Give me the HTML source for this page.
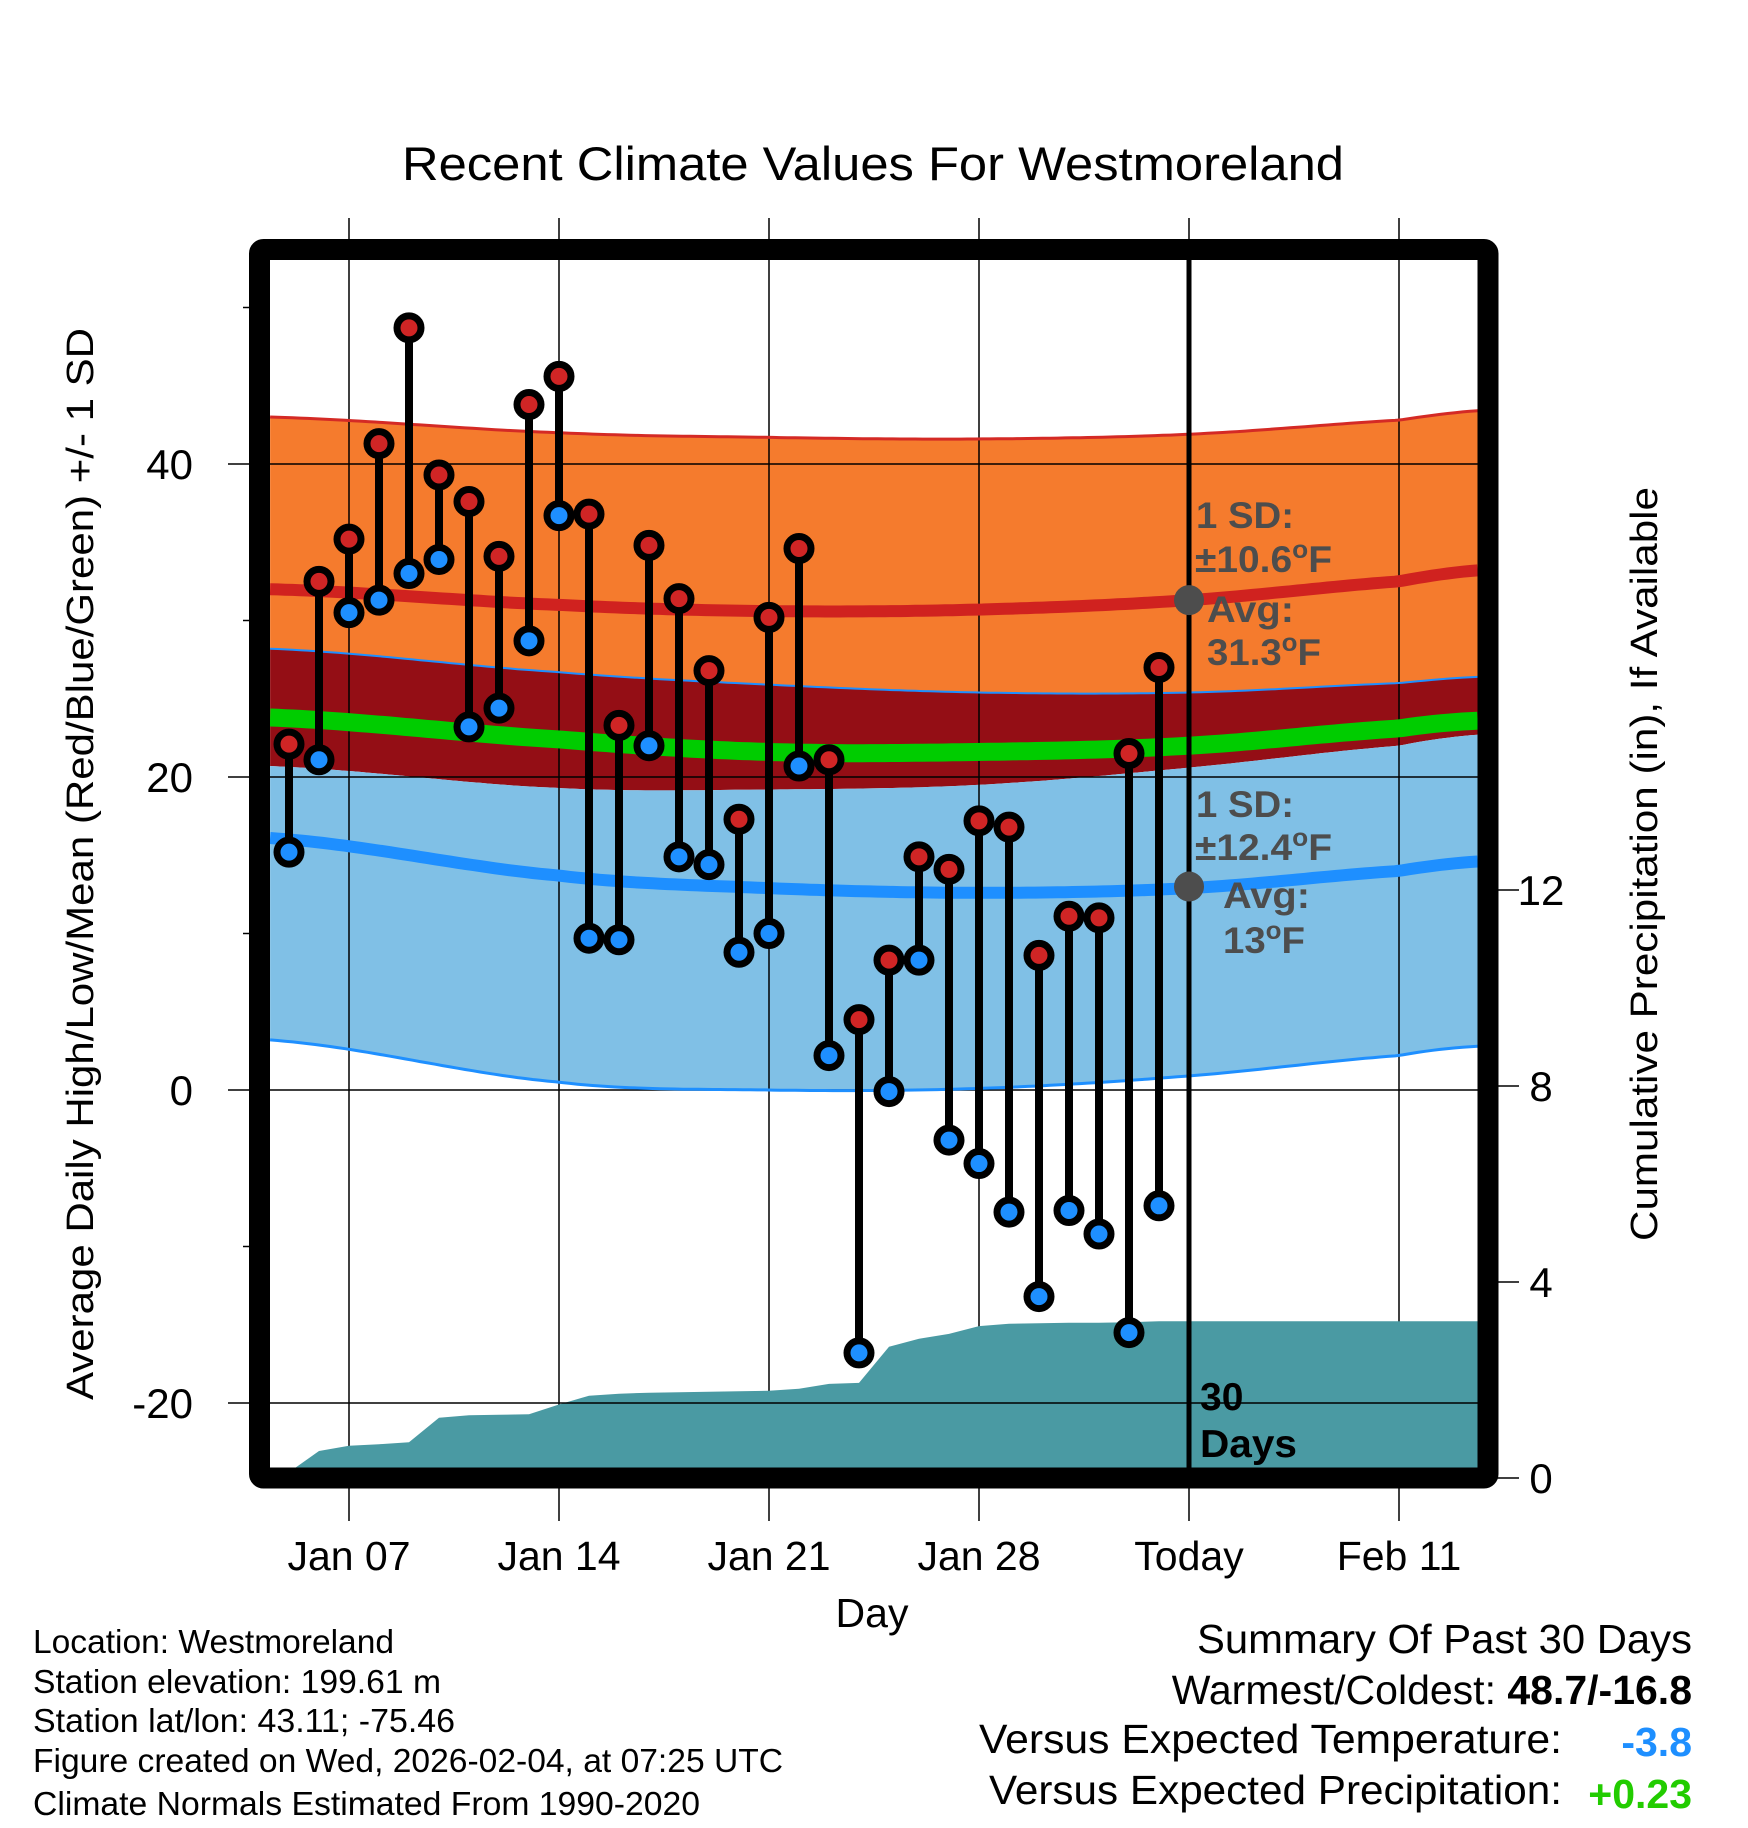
<!DOCTYPE html>
<html><head><meta charset="utf-8"><style>
html,body{margin:0;padding:0;background:#fff;}
svg{display:block;font-family:"Liberation Sans",Arial,sans-serif;}
</style></head><body>
<svg id="chart" width="1748" height="1828" viewBox="0 0 1748 1828" xmlns="http://www.w3.org/2000/svg">
<g id="bands"></g><g id="grid"></g><g id="precip"></g><g id="lines"></g><g id="marks"></g><g id="frame"></g><g id="labels"></g>
</svg>
<script>
// ---- data ----
const days = [5,6,7,8,9,10,11,12,13,14,15,16,17,18,19,20,21,22,23,24,25,26,27,28,29,30,31,32,33,34];
const highs = [22.1,32.5,35.2,41.3,48.7,39.3,37.6,34.1,43.8,45.6,36.8,23.3,34.8,31.4,26.8,17.3,30.2,34.6,21.1,4.5,8.3,14.9,14.1,17.2,16.8,8.6,11.1,11.0,21.5,27.0];
const lows = [15.2,21.1,30.5,31.3,33.0,33.9,23.2,24.4,28.7,36.7,9.7,9.6,22.0,14.9,14.4,8.8,10.0,20.7,2.2,-16.8,-0.1,8.3,-3.2,-4.7,-7.8,-13.2,-7.7,-9.2,-15.5,-7.4];
const precip = [0.0,0.55,0.66,0.69,0.73,1.23,1.28,1.29,1.30,1.50,1.68,1.72,1.74,1.75,1.76,1.77,1.78,1.82,1.92,1.94,2.68,2.84,2.94,3.10,3.15,3.16,3.17,3.17,3.18,3.20];
const normDays = [4.37,14,21,28,35,42,44.63];
const highMean = [32.0,31.0,30.6,30.7,31.3,32.5,33.2];
const highUpper = [43.0,42.0,41.7,41.6,41.9,42.8,43.4];
const highLower = [28.2,26.7,25.9,25.4,25.4,26.0,26.4];
const lowMean = [16.1,13.7,12.9,12.6,12.9,14.0,14.6];
const lowUpper = [20.7,19.3,19.2,19.5,20.6,22.0,22.7];
const lowLower = [3.2,0.5,0.0,0.1,0.9,2.2,2.8];
const avgMean = [23.8,22.4,21.6,21.6,22.0,23.1,23.6];
const xTickDays = [7,14,21,28,35,42];
const xTickLabels = ["Jan 07","Jan 14","Jan 21","Jan 28","Today","Feb 11"];
const yTicks = [40,20,0,-20];
const yMinor = [50,30,10,-10];
const pTicks = [0,4,8,12];
// ---- scales ----
const L=270,R=1478,T=260,B=1468;
const x = d => 349 + 30*(d-7);
const y = t => 1090 - 15.65*t;
const py = p => 1478 - 49*p;
const NS="http://www.w3.org/2000/svg";
function el(tag, attrs, parent){const e=document.createElementNS(NS,tag);for(const k in attrs)e.setAttribute(k,attrs[k]);parent.appendChild(e);return e;}
function interp(arr,d){for(let i=0;i<normDays.length-1;i++){if(d<=normDays[i+1]){const f=(d-normDays[i])/(normDays[i+1]-normDays[i]);const a=arr[i],b=arr[i+1],a0=i>0?arr[i-1]:a,b1=i+2<arr.length?arr[i+2]:b;const m0=(b-a0)/2,m1=(b1-a)/2;const f2=f*f,f3=f2*f;return (2*f3-3*f2+1)*a+(f3-2*f2+f)*m0+(-2*f3+3*f2)*b+(f3-f2)*m1;}}return arr[arr.length-1];}
const samp=[];for(let d=normDays[0];d<=normDays[6]+0.001;d+=0.25)samp.push(d);
function linePts(arr){return samp.map(d=>x(d).toFixed(1)+","+y(interp(arr,d)).toFixed(1));}
function band(top,bot){return linePts(top).concat(linePts(bot).reverse()).join(" ");}
const gB=document.getElementById('bands');
let e;
e=el('polygon',{points:band(highUpper,highLower),fill:'#f57b2d'},gB);


e=el('polygon',{points:band(highLower,lowUpper),fill:'#940e15'},gB);


e=el('polygon',{points:band(lowUpper,lowLower),fill:'#80c0e6'},gB);


const gL=document.getElementById('lines');
function pl(arr,col,w,name){const p=el('polyline',{points:linePts(arr).join(" "),fill:'none',stroke:col,'stroke-width':w},gL);}
pl(highUpper,'#d42a25',3,'high-upper-line');
pl(highLower,'#1e8fff',2,'high-lower-line');
pl(lowLower,'#1e8fff',3,'low-lower-line');
pl(highMean,'#d0221f',12,'high-mean-line');
pl(lowMean,'#1e8fff',12,'low-mean-line');
pl(avgMean,'#00cc00',18,'avg-mean-line');
// grid
const gG=document.getElementById('grid');
xTickDays.forEach((d,i)=>{
  const g=el('line',{x1:x(d),x2:x(d),y1:218,y2:1521,stroke:'#000','stroke-width':1.5},gG);
  
  
});
// precip area
const gP=document.getElementById('precip');
let pp=[x(days[0]+0.2)+","+B];
days.forEach((d,i)=>{if(i>0)pp.push(x(d)+","+Math.min(B,py(precip[i])).toFixed(1));});
pp.push(R+","+py(precip[precip.length-1]).toFixed(1));
pp.push(R+","+B);
e=el('polygon',{points:pp.join(" "),fill:'#4a9aa3'},gP);


yTicks.forEach(t=>{
  const g=el('line',{x1:228,x2:R,y1:y(t),y2:y(t),stroke:'#000','stroke-width':1.5},gP);
  
  
});
yMinor.forEach(t=>{
  const g=el('line',{x1:243,x2:252,y1:y(t),y2:y(t),stroke:'#000','stroke-width':1.5},gP);
  
  
});
pTicks.forEach(p=>{
  const g=el('line',{x1:1490,x2:1519,y1:py(p),y2:py(p),stroke:'#000','stroke-width':1.5},gP);
  
  
});
e=el('line',{x1:x(35),x2:x(35),y1:250,y2:1470,stroke:'#000','stroke-width':5},gL);


e=el('circle',{cx:x(35),cy:y(31.3),r:15,fill:'#4d4d4d'},gL);


e=el('circle',{cx:x(35),cy:y(13),r:15,fill:'#4d4d4d'},gL);


// marks
const gM=document.getElementById('marks');
days.forEach((d,i)=>{
  const s=el('line',{x1:x(d),x2:x(d),y1:y(highs[i]),y2:y(lows[i]),stroke:'#000','stroke-width':8},gM);
  
  
});
days.forEach((d,i)=>{
  const h=el('circle',{cx:x(d),cy:y(highs[i]),r:12,fill:'#d02525',stroke:'#000','stroke-width':7},gM);
  
  
  const l=el('circle',{cx:x(d),cy:y(lows[i]),r:12,fill:'#1e8fff',stroke:'#000','stroke-width':7},gM);
  
  
});
e=el('rect',{x:259.5,y:249.5,width:1228.5,height:1228.5,fill:'none',stroke:'#000','stroke-width':21,rx:4},document.getElementById('frame'));


// labels
const gT=document.getElementById('labels');
function tx(str,a,name){const t=el('text',a,gT);t.textContent=str;return t;}
xTickDays.forEach((d,i)=>tx(xTickLabels[i],{x:x(d),y:1570,'font-size':41,'text-anchor':'middle'},'x-tick-label'));
yTicks.forEach(t=>tx(String(t),{x:193,y:y(t)+15,'font-size':42,'text-anchor':'end'},'y-tick-label'));
pTicks.forEach(p=>tx(String(p),{x:1541,y:py(p)+15,'font-size':42,'text-anchor':'middle'},'precip-tick-label'));
tx("Recent Climate Values For Westmoreland",{x:873,y:180,'font-size':47,'text-anchor':'middle',textLength:942,lengthAdjust:'spacingAndGlyphs'},'chart-title');
tx("Day",{x:872,y:1627,'font-size':41,'text-anchor':'middle'},'x-axis-title');
tx("Average Daily High/Low/Mean (Red/Blue/Green) +/- 1 SD",{x:0,y:0,'font-size':38,'text-anchor':'middle',textLength:1072,lengthAdjust:'spacingAndGlyphs',transform:'translate(93,864) rotate(-90)'},'y-axis-title');
tx("Cumulative Precipitation (in), If Available",{x:0,y:0,'font-size':38,'text-anchor':'middle',textLength:754,lengthAdjust:'spacingAndGlyphs',transform:'translate(1657,864) rotate(-90)'},'precip-axis-title');
const ann={'font-size':37,'font-weight':'bold',fill:'#4d4d4d',lengthAdjust:'spacingAndGlyphs'};
function an(str,xx,yy,len,name){const t=tx('',Object.assign({x:xx,y:yy,textLength:len},ann),name);t.innerHTML=str;}
an("1 SD:",1196,528,98,'high-sd-label');
an("±10.6<tspan baseline-shift='super' font-size='25'>o</tspan>F",1195,572,137,'high-sd-value');
an("Avg:",1207,622,87,'high-avg-label');
an("31.3<tspan baseline-shift='super' font-size='25'>o</tspan>F",1207,665,114,'high-avg-value');
an("1 SD:",1196,817,98,'low-sd-label');
an("±12.4<tspan baseline-shift='super' font-size='25'>o</tspan>F",1195,860,137,'low-sd-value');
an("Avg:",1223,908,87,'low-avg-label');
an("13<tspan baseline-shift='super' font-size='25'>o</tspan>F",1223,953,82,'low-avg-value');
tx("30",{x:1200,y:1410,'font-size':39,'font-weight':'bold'},'days-count-label');
tx("Days",{x:1200,y:1457,'font-size':39,'font-weight':'bold',textLength:97,lengthAdjust:'spacingAndGlyphs'},'days-count-unit');
const info=["Location: Westmoreland","Station elevation: 199.61 m","Station lat/lon: 43.11; -75.46","Figure created on Wed, 2026-02-04, at 07:25 UTC","Climate Normals Estimated From 1990-2020"];
const infoLen=[361,408,422,750,667];
const infoY=[1653,1693,1732,1772,1815];
info.forEach((s,i)=>tx(s,{x:33,y:infoY[i],'font-size':33,textLength:infoLen[i],lengthAdjust:'spacingAndGlyphs'},'station-info-line'));
tx("Summary Of Past 30 Days",{x:1692,y:1653,'font-size':41,'text-anchor':'end',textLength:495,lengthAdjust:'spacingAndGlyphs'},'summary-title');
const w=tx("",{x:1692,y:1704,'font-size':41,'text-anchor':'end'},'warmest-coldest');
w.innerHTML="Warmest/Coldest: <tspan font-weight='bold'>48.7/-16.8</tspan>";
tx("Versus Expected Temperature:",{x:1562,y:1753,'font-size':41,'text-anchor':'end',textLength:583,lengthAdjust:'spacingAndGlyphs'},'temp-anomaly-label');
tx("-3.8",{x:1692,y:1756,'font-size':41,'text-anchor':'end','font-weight':'bold',fill:'#1e8fff'},'temp-anomaly-value');
tx("Versus Expected Precipitation:",{x:1562,y:1804,'font-size':41,'text-anchor':'end',textLength:573,lengthAdjust:'spacingAndGlyphs'},'precip-anomaly-label');
tx("+0.23",{x:1692,y:1808,'font-size':41,'text-anchor':'end','font-weight':'bold',fill:'#22cc00'},'precip-anomaly-value');
</script>
</body></html>
